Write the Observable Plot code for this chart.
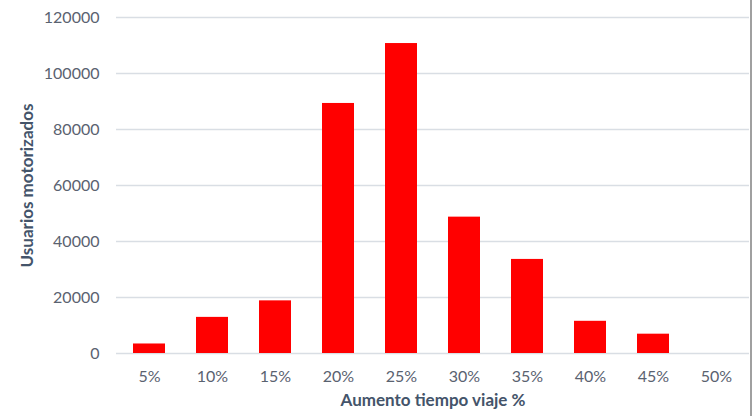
<!DOCTYPE html>
<html>
<head>
<meta charset="utf-8">
<script src="https://cdn.jsdelivr.net/npm/d3@7"></script>
<script src="https://cdn.jsdelivr.net/npm/@observablehq/plot@0.6"></script>
<style>
  html, body { margin: 0; padding: 0; background: #fff; }
  #wrap { position: relative; width: 753px; height: 416px; }
  #wrap::after { content: ""; position: absolute; right: 1px; top: 0; width: 2px; height: 416px; background: #a0a0a0; }
  svg { display: block; }
</style>
</head>
<body>
<div id="wrap"></div>
<script>
const categories = ["5%", "10%", "15%", "20%", "25%", "30%", "35%", "40%", "45%", "50%"];
const usuarios = [3400, 12900, 18800, 89300, 110700, 48700, 33600, 11500, 6900, 0];
const yTicks = [0, 20000, 40000, 60000, 80000, 100000, 120000];
const xTitle = "Aumento tiempo viaje %";
const yTitle = "Usuarios motorizados";

const data = categories.map((c, i) => ({cat: c, value: usuarios[i]}));

const chart = Plot.plot({
  width: 753,
  height: 416,
  marginLeft: 116,
  marginRight: 4,
  marginTop: 17,
  marginBottom: 63,
  style: {fontFamily: "Lato, 'Open Sans', sans-serif", fontSize: "16px", color: "#5a6270", background: "#fff"},
  x: {domain: categories, paddingInner: 0.495, paddingOuter: 0.2475, label: null},
  y: {domain: [0, 120000], label: null},
  marks: [
    Plot.gridY(yTicks, {stroke: "#d9dee4", strokeOpacity: 1, strokeWidth: 1.5}),
    Plot.barY(data, {x: "cat", y: "value", fill: "#ff0000"}),
    Plot.axisY(yTicks, {tickSize: 0, tickPadding: 17, tickFormat: d => String(d), label: null, fill: "#5a6270", fontSize: 16}),
    Plot.axisX({tickSize: 0, tickPadding: 17, label: null, fill: "#5a6270", fontSize: 16}),
    Plot.text([yTitle], {frameAnchor: "left", dx: -89, rotate: -90, textAnchor: "middle", fontWeight: "bold", fontSize: 17, fill: "#44546a"}),
    Plot.text([xTitle], {frameAnchor: "bottom", dy: 52, textAnchor: "middle", fontWeight: "bold", fontSize: 17, fill: "#44546a"})
  ]
});
document.getElementById("wrap").appendChild(chart);
</script>
</body>
</html>
